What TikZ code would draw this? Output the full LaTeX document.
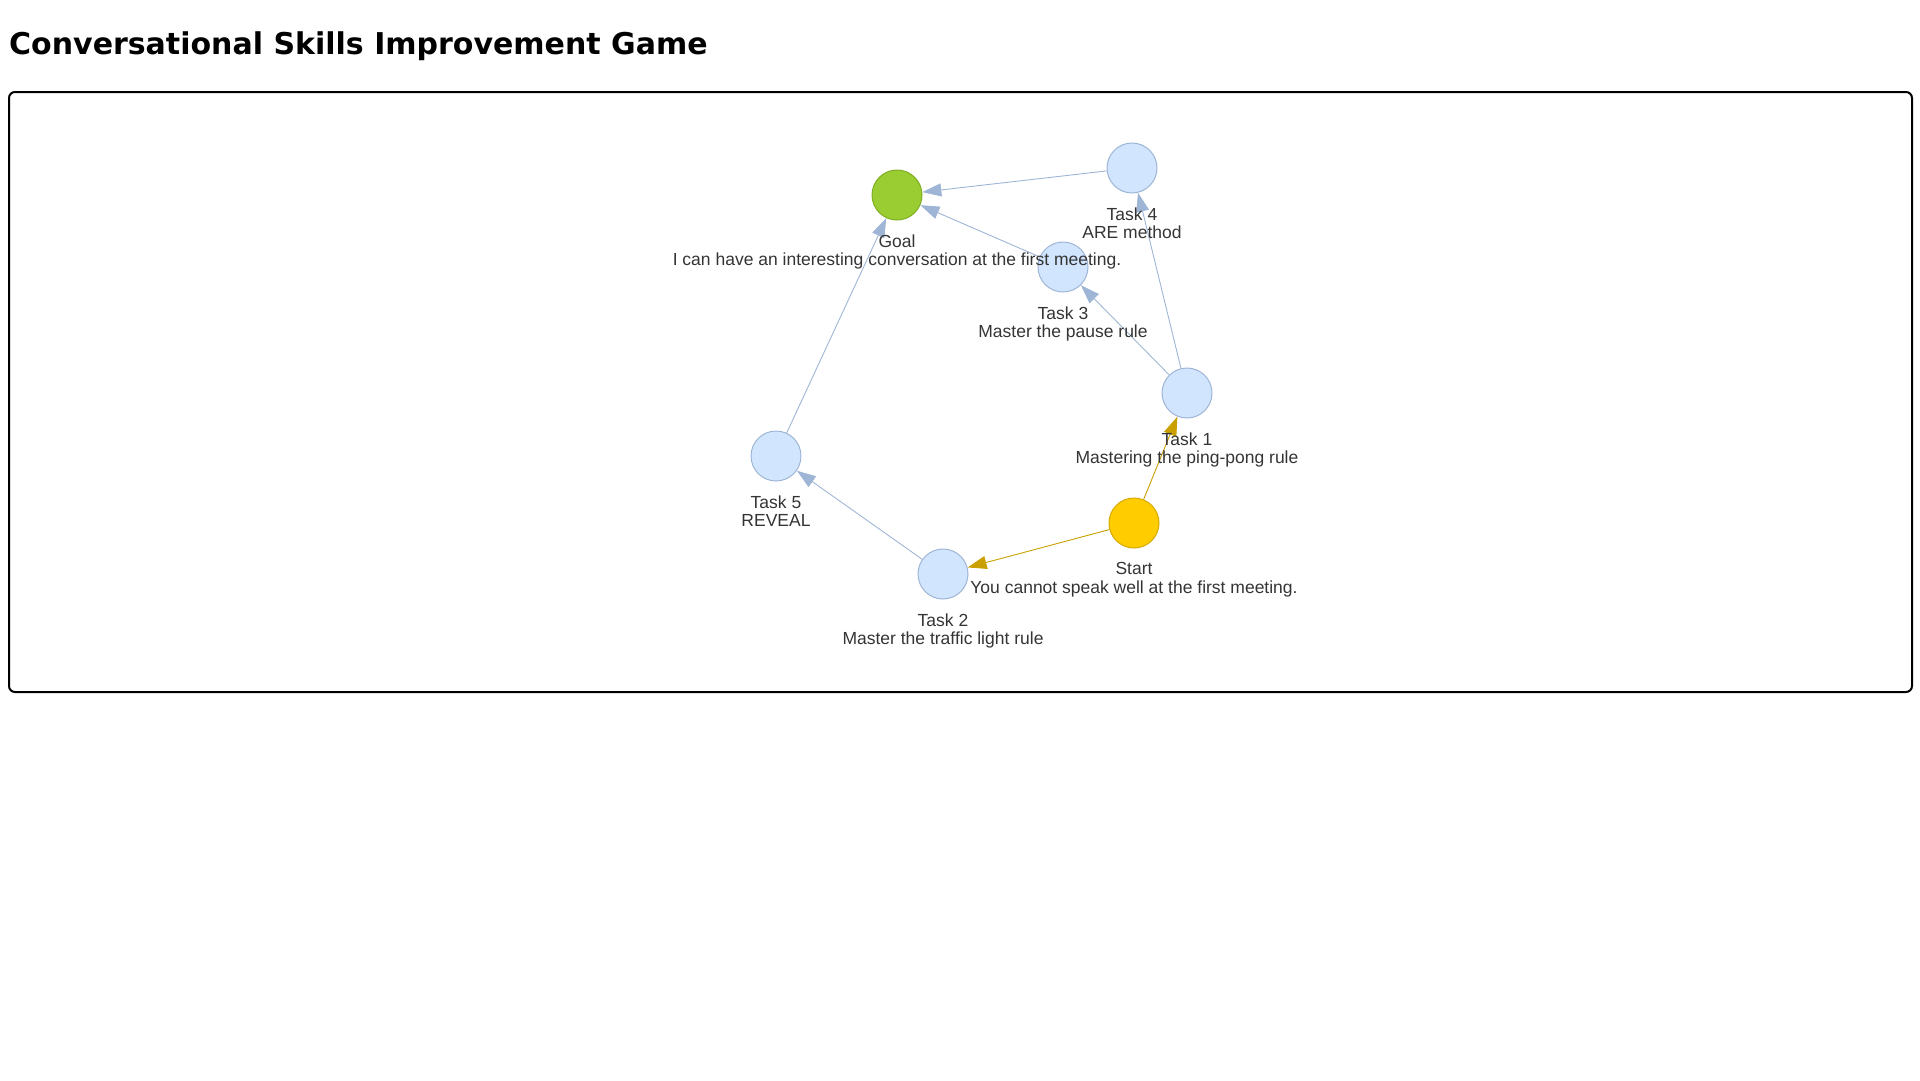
\documentclass[tikz,border=0pt]{standalone}
\usepackage{fontspec}
\setmainfont{Liberation Sans}
\newfontfamily\titlefont{DejaVu Sans}
\usetikzlibrary{arrows.meta,positioning}
\definecolor{taskblue}{HTML}{D2E5FF}
\definecolor{taskline}{HTML}{9FB5D5}
\definecolor{goalgreen}{HTML}{9ACD32}
\definecolor{goalline}{HTML}{7FAE22}
\definecolor{startgold}{HTML}{FFCC00}
\definecolor{startline}{HTML}{D6AA00}
\definecolor{linkgold}{HTML}{C9A000}
\definecolor{labelgrey}{HTML}{343434}

\begin{document}
\begin{tikzpicture}[
  x=1pt, y=-1pt,
  font=\fontsize{17.5}{18.5}\selectfont,
  task/.style={circle, draw=taskline, fill=taskblue, line width=1pt,
    minimum size=50pt, inner sep=0pt},
  goalnode/.style={task, draw=goalline, fill=goalgreen},
  startnode/.style={task, draw=startline, fill=startgold},
  caption/.style={below=14pt of #1, align=center, inner sep=0pt,
    text=labelgrey},
  arrow/.style={-{Triangle[length=19pt, width=13pt]}, line width=0.9pt,
    draw=taskline},
  firstarrow/.style={arrow, draw=linkgold}
]
\useasboundingbox (0,0) rectangle (1920,1080);
\node[font=\titlefont\bfseries\fontsize{30}{36}\selectfont, anchor=base west,
  inner sep=0pt] (title) at (9,54) {Conversational Skills Improvement Game};
\draw[line width=2pt, rounded corners=6pt] (9,92) rectangle (1912,692);

% game steps
\node[goalnode] (goal) at (897,195) {};
\node[task] (task4) at (1132,168) {};
\node[task] (task3) at (1063,267) {};
\node[task] (task1) at (1187,393) {};
\node[startnode] (start) at (1134,523) {};
\node[task] (task2) at (943,574) {};
\node[task] (task5) at (776,456) {};

\draw[firstarrow] (start) -- (task1);
\draw[firstarrow] (start) -- (task2);
\draw[arrow] (task1) -- (task3);
\draw[arrow] (task1) -- (task4);
\draw[arrow] (task2) -- (task5);
\draw[arrow] (task5) -- (goal);
\draw[arrow] (task3) -- (goal);
\draw[arrow] (task4) -- (goal);

\node[caption=goal] (goal-l) {Goal\\I can have an interesting conversation at the first meeting.};
\node[caption=task4] (task4-l) {Task 4\\ARE method};
\node[caption=task3] (task3-l) {Task 3\\Master the pause rule};
\node[caption=task1] (task1-l) {Task 1\\Mastering the ping-pong rule};
\node[caption=start] (start-l) {Start\\You cannot speak well at the first meeting.};
\node[caption=task2] (task2-l) {Task 2\\Master the traffic light rule};
\node[caption=task5] (task5-l) {Task 5\\REVEAL};
\end{tikzpicture}
\end{document}
